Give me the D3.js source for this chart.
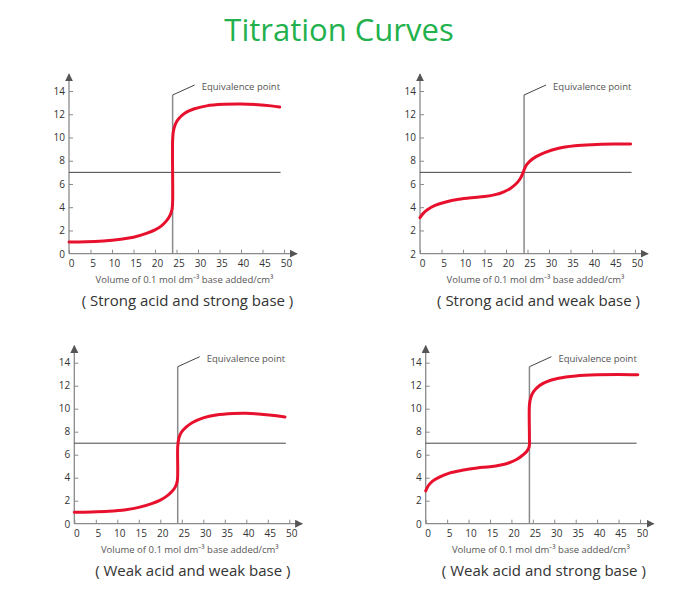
<!DOCTYPE html>
<html><head><meta charset="utf-8">
<script src="https://cdn.jsdelivr.net/npm/d3@7"></script>
<style>body{margin:0;background:#fff}</style>
</head><body>
<svg id="c" width="700" height="605"></svg>
<script>
const titleText = "Titration Curves";
const xTicks = [0,5,10,15,20,25,30,35,40,45,50];
const yTicks = [2,4,6,8,10,12,14];
const xLabel = "Volume of 0.1 mol dm\u207B\u00B3 base added/cm\u00B3";
const eqLabel = "Equivalence point";
const subtitles = ["( Strong acid and strong base )","( Strong acid and weak base )","( Weak acid and weak base )","( Weak acid and strong base )"];
const zeroLabels = ["0","2","0","0"];
const equivalenceX = [24.1, 24.2, 24.05, 24.2];
const neutralPH = 7;

const strongStrong = [[0,1.0],[4,1.02],[8,1.1],[12,1.25],[15,1.42],[18,1.75],[20,2.05],[21.5,2.4],[22.7,2.85],[23.5,3.3],[23.95,3.8],[24.1,4.5],[24.1,9.8],[24.3,10.6],[24.8,11.2],[25.6,11.65],[27,12.1],[29,12.45],[32,12.72],[36,12.85],[40,12.88],[44,12.82],[47,12.72],[49,12.62]];
const strongWeak = [[0,3.1],[0.7,3.45],[1.8,3.8],[3.5,4.15],[6,4.45],[9,4.68],[12,4.82],[15,4.92],[17.5,5.08],[19.5,5.33],[21,5.62],[22.3,6.0],[23.3,6.45],[24,7.0],[24.6,7.55],[25.5,7.95],[27,8.35],[29,8.7],[32,9.05],[36,9.28],[40,9.38],[45,9.43],[49,9.43]];
const weakWeak = [[0,1.0],[4,1.02],[8,1.08],[12,1.22],[15,1.42],[18,1.75],[20,2.05],[21.5,2.4],[22.7,2.8],[23.5,3.2],[23.95,3.7],[24.05,4.5],[24.05,6.7],[24.3,7.4],[24.9,7.95],[26,8.4],[27.5,8.8],[30,9.2],[33,9.45],[37,9.58],[40,9.6],[44,9.5],[47,9.38],[49,9.28]];
const weakStrong = [[0,2.85],[0.6,3.3],[1.6,3.7],[3.2,4.05],[5.5,4.4],[8.5,4.65],[12,4.85],[15,4.95],[17.5,5.1],[19.5,5.3],[21.3,5.6],[22.6,5.95],[23.6,6.3],[24.15,6.7],[24.2,7.5],[24.2,10.3],[24.5,10.95],[25.2,11.5],[26.5,12],[28,12.32],[31,12.65],[35,12.85],[40,12.95],[45,12.98],[49.5,12.95]];
const curves = [strongStrong, strongWeak, weakWeak, weakStrong];

const panels = [
  {x0:69, x1:284, y0:253.7, y1:91},
  {x0:420, x1:635, y0:253.7, y1:91},
  {x0:74.3, x1:289.3, y0:523.7, y1:362.7},
  {x0:425.7, x1:640, y0:523.7, y1:362.7}
];

const svg = d3.select("#c");
const font = "'Open Sans', sans-serif";
svg.append("text").attr("x",339).attr("y",41).attr("text-anchor","middle")
  .attr("font-family",font).attr("font-size",31).attr("fill","#22b14c").text(titleText);

const defs = svg.append("defs");
defs.append("marker").attr("id","arr").attr("viewBox","0 0 10 10").attr("refX",9).attr("refY",5)
  .attr("markerWidth",8).attr("markerHeight",8).attr("markerUnits","userSpaceOnUse").attr("orient","auto")
  .append("path").attr("d","M0,0L10,5L0,10z").attr("fill","#555");

panels.forEach((p,i)=>{
  const x = d3.scaleLinear().domain([0,50]).range([p.x0,p.x1]);
  const y = d3.scaleLinear().domain([0,14]).range([p.y0,p.y1]);
  const g = svg.append("g");
  const axisCol = "#8a8a8a";
  g.append("line").attr("x1",x(0)).attr("x2",x(0)+228).attr("y1",y(0)).attr("y2",y(0))
    .attr("stroke",axisCol).attr("stroke-width",1.3).attr("marker-end","url(#arr)");
  g.append("line").attr("x1",x(0)).attr("x2",x(0)).attr("y1",y(0)).attr("y2",y(14)-17)
    .attr("stroke",axisCol).attr("stroke-width",1.3).attr("marker-end","url(#arr)");
  const xa = d3.axisTop(x).tickValues(xTicks).tickSize(4).tickFormat("");
  const gx = g.append("g").attr("transform",`translate(0,${y(0)})`).call(xa);
  gx.select(".domain").remove();
  gx.selectAll("line").attr("stroke",axisCol);
  const xb = d3.axisBottom(x).tickValues(xTicks).tickSize(0).tickPadding(6);
  const gx2 = g.append("g").attr("transform",`translate(2,${y(0)})`).call(xb);
  gx2.select(".domain").remove();
  gx2.selectAll("text").attr("font-family",font).attr("font-size",10).attr("fill","#333");
  const ya = d3.axisRight(y).tickValues(yTicks).tickSize(4).tickFormat("");
  const gy = g.append("g").attr("transform",`translate(${x(0)},0)`).call(ya);
  gy.select(".domain").remove();
  gy.selectAll("line").attr("stroke",axisCol);
  const yb = d3.axisLeft(y).tickValues(yTicks).tickSize(0).tickPadding(4);
  const gy2 = g.append("g").attr("transform",`translate(${x(0)},0)`).call(yb);
  gy2.select(".domain").remove();
  gy2.selectAll("text").attr("font-family",font).attr("font-size",10).attr("fill","#333");
  g.append("text").attr("x",x(0)-4).attr("y",y(0)+4).attr("text-anchor","end")
    .attr("font-family",font).attr("font-size",10).attr("fill","#333").text(zeroLabels[i]);
  g.append("line").attr("x1",x(0)).attr("x2",x(49.2)).attr("y1",y(neutralPH)).attr("y2",y(neutralPH))
    .attr("stroke","#444").attr("stroke-width",1);
  const ex = x(equivalenceX[i]);
  g.append("line").attr("x1",ex).attr("x2",ex).attr("y1",y(0)).attr("y2",y(14)+4)
    .attr("stroke","#8a8a8a").attr("stroke-width",1.5);
  g.append("line").attr("x1",ex).attr("x2",ex+22).attr("y1",y(14)+4).attr("y2",y(14)-6)
    .attr("stroke","#444").attr("stroke-width",1);
  g.append("text").attr("x",ex+29).attr("y",y(14)-1).attr("font-family",font).attr("font-size",9.5)
    .attr("fill","#555").text(eqLabel);
  const line = d3.line().x(d=>x(d[0])).y(d=>y(d[1])).curve(d3.curveCatmullRom.alpha(0.5));
  g.append("path").datum(curves[i]).attr("d",line).attr("fill","none")
    .attr("stroke","#e8112d").attr("stroke-width",3).attr("stroke-linecap","round");
  const cx = (x(0)+x(50))/2 + 8;
  g.append("text").attr("x",cx).attr("y",y(0)+29).attr("text-anchor","middle")
    .attr("font-family",font).attr("font-size",9.5).attr("fill","#555").text(xLabel);
  g.append("text").attr("x",cx+3).attr("y",y(0)+52).attr("text-anchor","middle")
    .attr("font-family",font).attr("font-size",15).attr("fill","#333").text(subtitles[i]);
});
</script>
</body></html>
